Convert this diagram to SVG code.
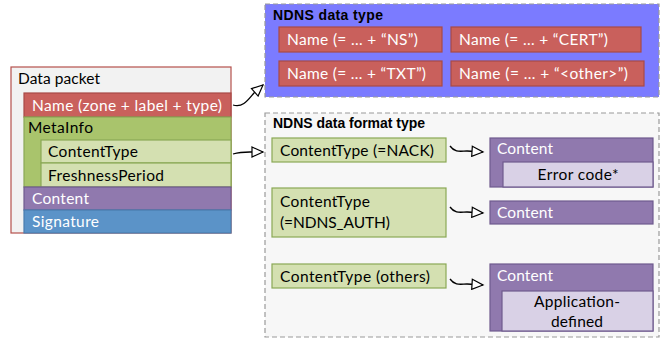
<svg xmlns="http://www.w3.org/2000/svg" width="666" height="345" viewBox="0 0 666 345">
<defs>
<style>
.t{font-family:Lato,"Open Sans","Liberation Sans",sans-serif;font-size:15.5px;fill:#000}
.w{fill:#fff}
.h{font-family:"Liberation Sans",Arial,sans-serif;font-weight:bold;font-size:14px;fill:#000}
.red{fill:#c9605c;stroke:#a84a46;stroke-width:1.2}
.grn{fill:#a9c46c;stroke:#8aa855;stroke-width:1.2}
.lgr{fill:#d4e0b1;stroke:#8aa855;stroke-width:1.2}
.pur{fill:#9079ae;stroke:#6f5a8e;stroke-width:1.2}
.lpu{fill:#d9d1e6;stroke:#6f5a8e;stroke-width:1.2}
.blu{fill:#5b93c8;stroke:#4a7cae;stroke-width:1.2}
.dash{stroke:#9a9a9a;stroke-width:1.2;stroke-dasharray:5 3}
.c{fill:none;stroke:#000;stroke-width:1.3}
</style>
<marker id="arr" markerUnits="userSpaceOnUse" markerWidth="14" markerHeight="12" refX="11" refY="5" orient="auto" viewBox="-1 -1 14 12">
<path d="M0,0 L11,5 L0,10 Z" fill="#fff" stroke="#000" stroke-width="1.2"/>
</marker>
</defs>

<g id="data-packet">
<rect x="11" y="67" width="220" height="166" fill="#f2f2f2" stroke="#b5504c" stroke-width="1.2"/>
<text class="t" x="18" y="84" textLength="82">Data packet</text>
<rect class="red" x="24" y="93" width="207" height="24"/>
<text class="t w" x="32" y="111" textLength="190">Name (zone + label + type)</text>
<rect class="grn" x="24" y="117" width="207" height="70"/>
<text class="t" x="28" y="133" textLength="65">MetaInfo</text>
<rect class="lgr" x="41" y="140" width="190" height="23"/>
<text class="t" x="48" y="157" textLength="90">ContentType</text>
<rect class="lgr" x="41" y="163" width="190" height="24"/>
<text class="t" x="48" y="181" textLength="116">FreshnessPeriod</text>
<rect class="pur" x="24" y="187" width="207" height="23"/>
<text class="t w" x="32" y="204" textLength="57">Content</text>
<rect class="blu" x="24" y="210" width="207" height="23"/>
<text class="t w" x="32" y="227" textLength="67">Signature</text>
</g>

<g id="ndns-data-type">
<rect class="dash" x="265" y="4" width="394" height="93" fill="#7b7bff"/>
<text class="h" x="273" y="20" textLength="110">NDNS data type</text>
<g id="name-ns">
<rect class="red" x="279" y="27" width="163" height="25"/>
<text class="t w" x="287" y="45" textLength="131">Name (= … + “NS”)</text>
</g>
<g id="name-cert">
<rect class="red" x="451" y="27" width="190" height="25"/>
<text class="t w" x="459" y="45" textLength="149">Name (= … + “CERT”)</text>
</g>
<g id="name-txt">
<rect class="red" x="279" y="61" width="163" height="25"/>
<text class="t w" x="287" y="79" textLength="139">Name (= … + “TXT”)</text>
</g>
<g id="name-other">
<rect class="red" x="451" y="61" width="193" height="25"/>
<text class="t w" x="459" y="79" textLength="169">Name (= … + “&lt;other&gt;”)</text>
</g>
</g>

<g id="ndns-data-format-type">
<rect class="dash" x="265" y="113" width="394" height="224" fill="#f7f7f7"/>
<text class="h" x="273" y="128" textLength="152">NDNS data format type</text>
<g id="ct-nack">
<rect class="lgr" x="272" y="138" width="174" height="24"/>
<text class="t" x="280" y="156" textLength="154">ContentType (=NACK)</text>
</g>
<g id="ct-auth">
<rect class="lgr" x="272" y="188" width="174" height="49"/>
<text class="t" x="280" y="207" textLength="90">ContentType</text>
<text class="t" x="280" y="228" textLength="110">(=NDNS_AUTH)</text>
</g>
<g id="ct-others">
<rect class="lgr" x="272" y="264" width="174" height="24"/>
<text class="t" x="280" y="282" textLength="150">ContentType (others)</text>
</g>
<g id="content-nack">
<rect class="pur" x="490" y="138" width="163" height="49"/>
<text class="t w" x="497" y="154" textLength="56">Content</text>
<rect class="lpu" x="503" y="162" width="150" height="25"/>
<text class="t" x="578" y="180" text-anchor="middle" textLength="81">Error code*</text>
</g>
<g id="content-auth">
<rect class="pur" x="490" y="201" width="163" height="23"/>
<text class="t w" x="497" y="218" textLength="56">Content</text>
</g>
<g id="content-others">
<rect class="pur" x="490" y="264" width="163" height="67"/>
<text class="t w" x="497" y="281" textLength="56">Content</text>
<rect class="lpu" x="502" y="291" width="151" height="40"/>
<text class="t" x="577" y="307" text-anchor="middle" textLength="86">Application-</text>
<text class="t" x="577" y="327" text-anchor="middle" textLength="52">defined</text>
</g>
</g>

<g id="connectors">
<path class="c" d="M233,105 C243,108 248,100 254,93 L263,85" marker-end="url(#arr)"/>
<path class="c" d="M233,154 C240,152 245,152 250,152 L263,152" marker-end="url(#arr)"/>
<path class="c" d="M450,146 C455,153 461,151 467,151 L483,152" marker-end="url(#arr)"/>
<path class="c" d="M450,207 C455,214 461,212 467,212 L483,213" marker-end="url(#arr)"/>
<path class="c" d="M450,279 C455,286 461,284 467,284 L483,285" marker-end="url(#arr)"/>
</g>
</svg>
